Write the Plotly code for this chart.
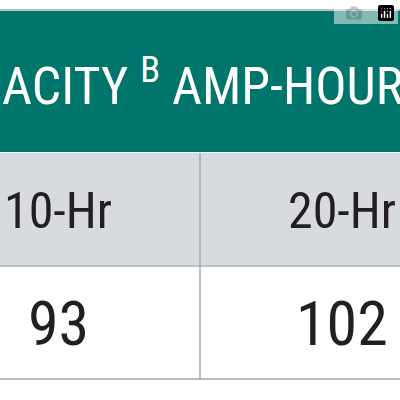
import plotly.graph_objects as go

# table contents (cropped view)
header = "ACITY <sup>B</sup> AMP-HOURS"
rates = ["10-Hr", "20-Hr"]
capacities = ["93", "102"]
col_centers = [58, 342]

teal = "#00756b"
gray_row = "#d7dade"
line_col = "#a7a9ac"
font = "Liberation Sans Narrow, Roboto Condensed, Arial Narrow, sans-serif"

fig = go.Figure()

# row backgrounds and grid lines
fig.add_shape(type="rect", x0=0, x1=400, y0=11, y1=152, fillcolor=teal, line_width=0, layer="below")
fig.add_shape(type="rect", x0=0, x1=400, y0=153, y1=265, fillcolor=gray_row, line_width=0, layer="below")
fig.add_shape(type="line", x0=0, x1=400, y0=10, y1=10, line=dict(color=line_col, width=1.5))
fig.add_shape(type="line", x0=0, x1=400, y0=266, y1=266, line=dict(color=line_col, width=1.5))
fig.add_shape(type="line", x0=0, x1=400, y0=379, y1=379, line=dict(color=line_col, width=1.5))
fig.add_shape(type="line", x0=200, x1=200, y0=153, y1=379, line=dict(color=line_col, width=1.5))

fig.add_annotation(x=0, y=82, text=header, showarrow=False, xanchor="left", yanchor="middle",
                   font=dict(family=font, size=52, color="white"))
for cx, r, c in zip(col_centers, rates, capacities):
    fig.add_annotation(x=cx, y=211, text=r, showarrow=False, xanchor="center", yanchor="middle",
                       font=dict(family=font, size=50, color="#231f20"))
    fig.add_annotation(x=cx, y=323, text=c, showarrow=False, xanchor="center", yanchor="middle",
                       font=dict(family=font, size=62, color="#231f20"))

fig.update_layout(
    width=400, height=400,
    margin=dict(l=0, r=0, t=0, b=0),
    paper_bgcolor="white", plot_bgcolor="white",
    showlegend=False,
    xaxis=dict(range=[0, 400], visible=False, fixedrange=True),
    yaxis=dict(range=[400, 0], visible=False, fixedrange=True),
)

fig.write_html("out.html", post_script="document.body.style.margin='0';")
